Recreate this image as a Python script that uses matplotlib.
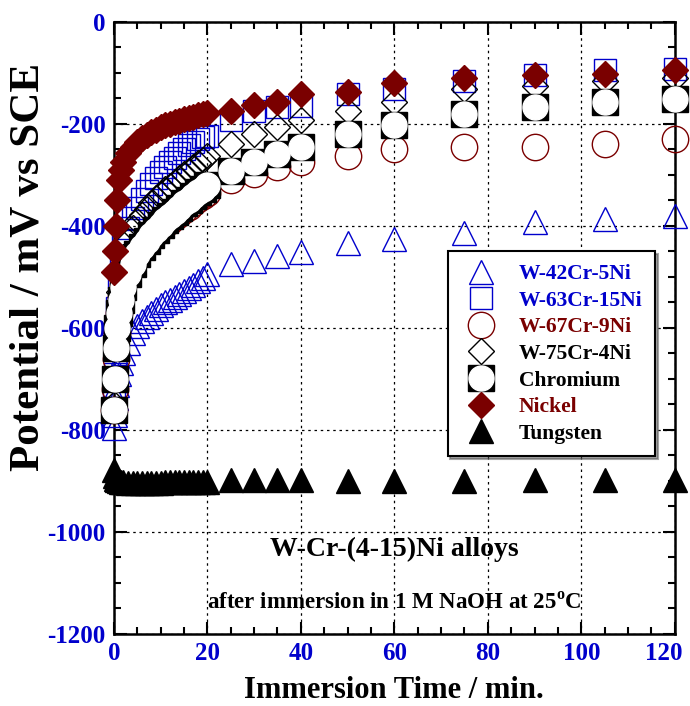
import matplotlib
matplotlib.use("Agg")
import matplotlib.pyplot as plt
from matplotlib.ticker import MultipleLocator, FuncFormatter

plt.rcParams['font.family'] = ['Liberation Serif', 'DejaVu Serif']
plt.rcParams['mathtext.fontset'] = 'custom'
plt.rcParams['mathtext.rm'] = 'Liberation Serif:bold'
plt.rcParams['axes.unicode_minus'] = False

t_early = [0, 0.25, 0.5, 0.75, 1, 1.5, 2, 3, 4, 5, 6, 7, 8, 9, 10, 11, 12, 13, 14, 15, 16, 17, 18, 19, 20]
t_late = [25, 30, 35, 40, 50, 60, 75, 90, 105, 120]
time = t_early + t_late

w42 = [-797, -770, -738, -712, -690, -668, -650, -630, -610, -596, -586, -578, -570, -563, -556, -550, -545, -540, -534, -528, -522, -516, -508, -502, -495,
       -475, -469, -459, -452, -433, -426, -413, -393, -387, -380]
w63 = [-740, -690, -620, -560, -500, -460, -430, -405, -385, -365, -347, -332, -318, -306, -295, -285, -275, -266, -257, -249, -242, -235, -230, -226, -223,
       -193, -174, -167, -164, -141, -131, -115, -104, -95, -92]
w67 = [-760, -720, -660, -610, -570, -540, -515, -490, -470, -455, -442, -432, -422, -413, -405, -397, -390, -383, -376, -368, -362, -355, -348, -342, -335,
       -310, -298, -285, -275, -262, -249, -246, -246, -239, -230]
w75 = [-750, -700, -640, -580, -530, -490, -460, -430, -405, -390, -378, -366, -355, -346, -337, -328, -321, -313, -306, -299, -292, -285, -277, -270, -262,
       -239, -220, -207, -193, -174, -157, -131, -125, -115, -110]
chromium = [-761, -700, -640, -600, -570, -545, -520, -495, -475, -455, -442, -430, -418, -408, -398, -388, -380, -372, -364, -356, -349, -342, -334, -327, -320,
            -292, -275, -259, -246, -220, -203, -180, -167, -157, -151]
nickel = [-490, -450, -400, -350, -310, -290, -275, -258, -245, -236, -228, -222, -216, -211, -207, -203, -200, -197, -194, -191, -188, -186, -183, -181, -179,
          -174, -163, -157, -141, -138, -120, -110, -105, -102, -95]
tungsten = [-878, -890, -896, -899, -901, -902, -903, -904, -904, -904, -904, -904, -904, -904, -904, -903, -903, -903, -903, -903, -902, -902, -902, -902, -902,
            -899, -899, -898, -898, -900, -900, -900, -898, -899, -899]

labels = ['W-42Cr-5Ni', 'W-63Cr-15Ni', 'W-67Cr-9Ni', 'W-75Cr-4Ni', 'Chromium', 'Nickel', 'Tungsten']
label_colors = ['#0000cc', '#0000cc', '#7a0000', 'black', 'black', '#7a0000', 'black']

fig = plt.figure(figsize=(6.9, 7.06), dpi=100)
ax = fig.add_axes([0.165, 0.102, 0.813, 0.867])

blue = '#0000cc'
dred = '#7a0000'
kw = dict(ls='none', clip_on=False)
h1, = ax.plot(time, w42, marker='^', ms=17, mfc='none', mec=blue, mew=1.0, zorder=3, **kw)
h2, = ax.plot(time, w63, marker='s', ms=16, mfc='none', mec=blue, mew=1.0, zorder=3, **kw)
h3, = ax.plot(time, w67, marker='o', ms=19, mfc='none', mec=dred, mew=1.0, zorder=3, **kw)
h4, = ax.plot(time, w75, marker='D', ms=13, mfc='none', mec='black', mew=1.0, zorder=4, **kw)
h5a, = ax.plot(time, chromium, marker='s', ms=19, mfc='black', mec='black', zorder=5, **kw)
h5b, = ax.plot(time, chromium, marker='o', ms=18, mfc='white', mec='white', zorder=5, **kw)
h6, = ax.plot(time, nickel, marker='D', ms=13, mfc=dred, mec=dred, zorder=6, **kw)
h7, = ax.plot(time, tungsten, marker='^', ms=17, mfc='black', mec='black', zorder=6, **kw)

ax.set_xlim(0, 120)
ax.set_ylim(-1200, 0)
ax.xaxis.set_major_locator(MultipleLocator(20))
ax.xaxis.set_minor_locator(MultipleLocator(5))
ax.yaxis.set_major_locator(MultipleLocator(200))
ax.yaxis.set_minor_locator(MultipleLocator(50))
ax.xaxis.set_major_formatter(FuncFormatter(lambda v, p: '' if v >= 119.5 else f'{v:.0f}'))
ax.tick_params(which='both', direction='in', top=True, right=True, width=1.5)
ax.tick_params(which='major', length=9)
ax.tick_params(which='minor', length=5)
ax.tick_params(axis='both', labelsize=18, labelcolor=blue, pad=6)
for lab in ax.get_xticklabels() + ax.get_yticklabels():
    lab.set_fontweight('bold')
# last x tick label, nudged left so it stays inside the figure
ax.annotate('120', xy=(120, -1200), xycoords='data', xytext=(-8, -6), textcoords='offset points',
            ha='center', va='top', fontsize=18, fontweight='bold', color=blue, annotation_clip=False)
for sp in ax.spines.values():
    sp.set_linewidth(1.8)
ax.grid(True, which='major', ls=(0, (2, 3)), color='black', lw=0.9)
ax.set_axisbelow(True)

ax.set_xlabel('Immersion Time / min.', fontsize=22, fontweight='bold', labelpad=8)
ax.set_ylabel('Potential / mV vs SCE', fontsize=31, fontweight='bold')
ax.yaxis.set_label_coords(-0.118, 0.60)

ax.text(60, -1035, 'W-Cr-(4-15)Ni alloys', ha='center', va='center', fontsize=20, fontweight='bold')
ax.text(60, -1140, r'after immersion in 1 M NaOH at 25$^{\mathrm{o}}$C', ha='center', va='center', fontsize=16.5, fontweight='bold')

leg = ax.legend([h1, h2, h3, h4, (h5a, h5b), h6, h7], labels, loc='upper left',
                bbox_to_anchor=(0.595, 0.625), frameon=True, fancybox=False, shadow=True,
                prop={'weight': 'bold', 'size': 15.5}, labelspacing=0.3, handletextpad=0.8,
                borderpad=0.6, handlelength=1.9, borderaxespad=0)
leg.get_frame().set_edgecolor('black')
leg.get_frame().set_linewidth(1.5)
leg.set_zorder(10)
for txt, c in zip(leg.get_texts(), label_colors):
    txt.set_color(c)

fig.savefig('out.png', dpi=100)
